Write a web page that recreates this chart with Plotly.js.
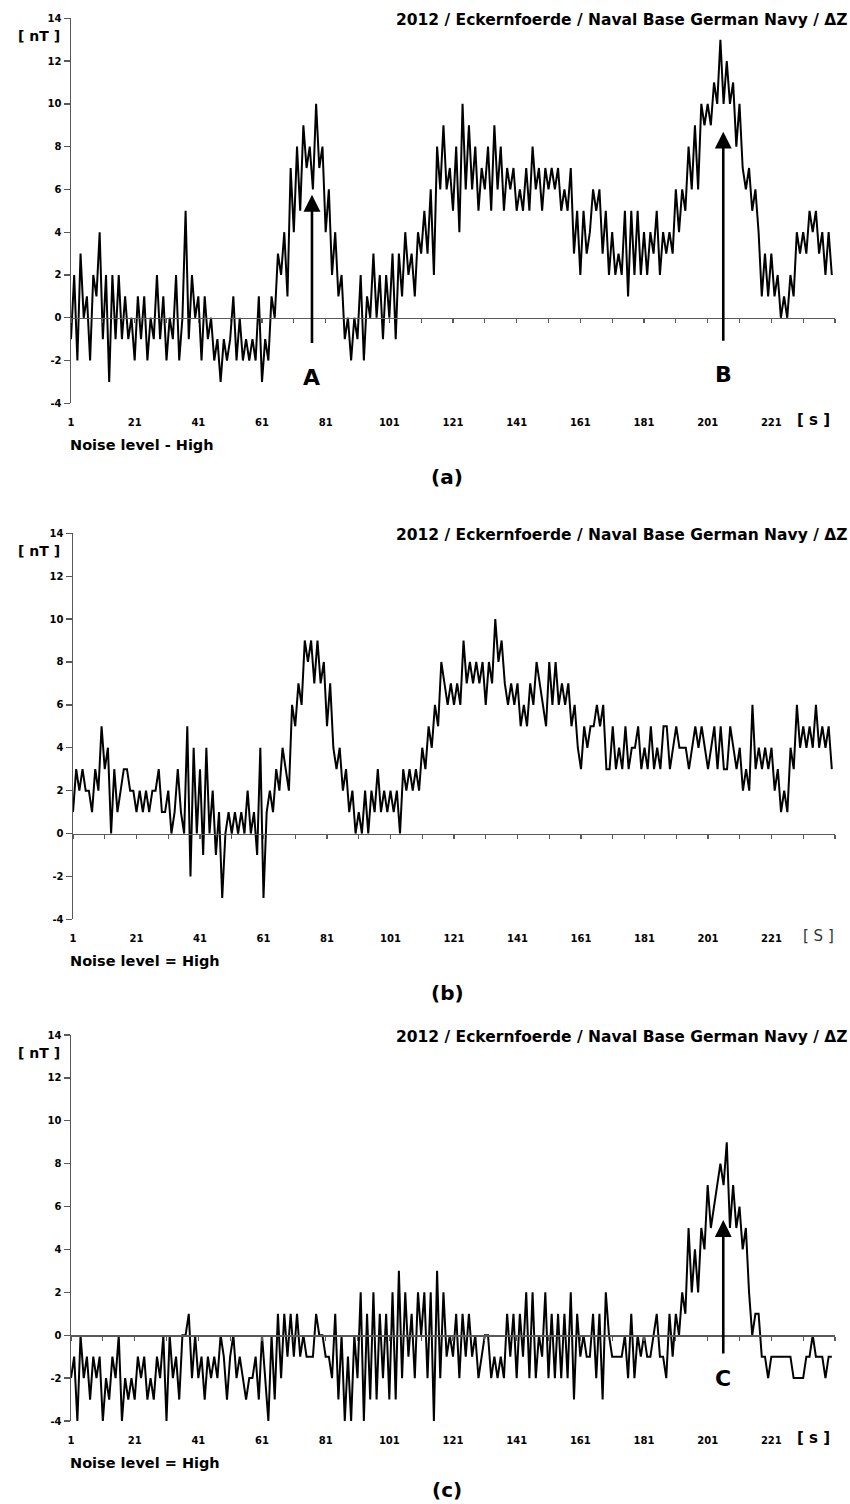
<!DOCTYPE html>
<html><head><meta charset="utf-8">
<script src="https://cdn.plot.ly/plotly-3.0.1.min.js"></script>
<style>body{margin:0;background:#fff}#chart{width:850px;height:1504px}</style>
</head><body><div id="chart"></div>
<script>
// ---- data ----
const seriesA = [
 -1, 2, -2, 3, 0, 1, -2, 2, 1, 4,
 -1, 2, -3, 2, -1, 2, -1, 1, -1, 0,
 -2, 1, -1, 1, -2, 0, -1, 2, -1, 1,
 -2, 0, -1, 2, -2, 0, 5, -1, 2, 0,
 1, -2, 1, -1, 0, -2, -1, -3, -1, -2,
 -1, 1, -2, 0, -2, -1, -2, -1, -2, 1,
 -3, -1, -2, 1, 0, 3, 2, 4, 1, 7,
 4, 8, 5, 9, 7, 8, 6, 10, 7, 8,
 4, 6, 2, 4, 1, 2, -1, 0, -2, 0,
 -1, 2, -2, 1, 0, 3, 0, 2, -1, 2,
 0, 3, -1, 3, 1, 4, 2, 3, 1, 4,
 3, 5, 3, 6, 2, 8, 6, 9, 6, 7,
 5, 8, 4, 10, 6, 9, 6, 8, 5, 7,
 6, 8, 5, 9, 6, 8, 5, 7, 6, 7,
 5, 6, 5, 7, 5, 8, 6, 7, 5, 7,
 6, 7, 6, 7, 5, 6, 5, 7, 3, 5,
 2, 5, 3, 4, 6, 5, 6, 3, 5, 2,
 4, 2, 3, 2, 5, 1, 5, 2, 5, 2,
 4, 2, 4, 3, 5, 2, 4, 3, 4, 3,
 6, 4, 6, 5, 8, 6, 9, 6, 10, 9,
 10, 9, 11, 10, 13, 10, 12, 10, 11, 8,
 10, 7, 6, 7, 5, 6, 4, 1, 3, 1,
 3, 1, 2, 0, 1, 0, 2, 1, 4, 3,
 4, 3, 5, 4, 5, 3, 4, 2, 4, 2
];
const seriesB = [
 1, 3, 2, 3, 2, 2, 1, 3, 2, 5,
 3, 4, 0, 3, 1, 2, 3, 3, 2, 2,
 1, 2, 1, 2, 1, 2, 2, 3, 1, 1,
 2, 0, 1, 3, 1, 0, 5, -2, 4, 0,
 3, -1, 4, 0, 2, -1, 1, -3, 0, 1,
 0, 1, 0, 1, 0, 2, 0, 1, -1, 4,
 -3, 1, 2, 1, 3, 2, 4, 3, 2, 6,
 5, 7, 6, 9, 8, 9, 7, 9, 7, 8,
 5, 7, 4, 3, 4, 2, 3, 1, 2, 0,
 1, 0, 2, 0, 2, 1, 3, 1, 2, 1,
 2, 1, 2, 0, 3, 2, 3, 2, 3, 2,
 4, 3, 5, 4, 6, 5, 8, 7, 6, 7,
 6, 7, 6, 9, 7, 8, 7, 8, 7, 8,
 6, 8, 7, 10, 8, 9, 7, 6, 7, 6,
 7, 5, 6, 5, 7, 6, 8, 7, 6, 5,
 8, 6, 8, 6, 7, 6, 7, 5, 6, 4,
 3, 5, 4, 5, 5, 6, 5, 6, 3, 3,
 5, 3, 4, 3, 5, 3, 4, 4, 5, 3,
 4, 3, 5, 3, 4, 3, 5, 5, 3, 4,
 5, 4, 4, 4, 3, 4, 5, 4, 5, 4,
 3, 4, 5, 3, 5, 3, 3, 5, 4, 3,
 4, 2, 3, 2, 6, 3, 4, 3, 4, 3,
 4, 2, 3, 1, 2, 1, 4, 3, 6, 4,
 5, 4, 5, 4, 6, 4, 5, 4, 5, 3
];
const seriesC = [
 -2, -1, -4, 0, -2, -1, -3, -1, -2, -1,
 -4, -2, -3, -1, -2, 0, -4, -2, -3, -2,
 -3, -1, -2, -1, -3, -2, -3, -1, -2, 0,
 -4, 0, -2, -1, -3, 0, 0, 1, -2, 0,
 -2, -1, -3, -1, -2, -1, -2, 0, -1, -3,
 -1, 0, -2, -1, -2, -3, -2, -2, -1, -3,
 0, -2, -4, 0, -3, 1, -2, 1, -1, 1,
 -1, 1, -1, 0, -1, -1, -1, 1, 0, 0,
 -1, -1, -2, 1, -3, 0, -4, -1, -4, 0,
 -2, 2, -4, 1, -3, 2, -3, 1, -2, 1,
 -3, 2, -3, 3, -2, 2, -1, 1, -2, 2,
 0, 2, -2, 2, -4, 3, -2, 2, -1, 0,
 -1, 1, -2, 1, -1, 1, -1, 0, -2, -1,
 0, 0, -2, -1, -2, -1, -2, 1, -1, 1,
 -2, 1, -1, 2, -2, 2, -2, 0, -1, 2,
 -2, 1, -2, 1, -2, 1, -2, 2, -3, 1,
 -1, 0, -1, -1, 1, -2, 1, -3, 2, 0,
 -1, -1, -1, -1, 0, -2, 1, -2, 0, -1,
 0, -1, -1, 0, 1, -1, -1, -2, 1, -1,
 1, 0, 2, 1, 5, 2, 4, 2, 5, 4,
 7, 5, 6, 7, 8, 7, 9, 5, 7, 5,
 6, 4, 5, 2, 0, 1, 1, -1, -1, -2,
 -1, -1, -1, -1, -1, -1, -1, -2, -2, -2,
 -2, -1, -1, 0, -1, -1, -1, -2, -1, -1
];
const seconds = seriesA.map((_, k) => k + 1);           // sample index 1..240
const xTickValues = [1, 21, 41, 61, 81, 101, 121, 141, 161, 181, 201, 221];
const xTickLabels = ['1','21','41','61','81','101','121','141','161','181','201','221'];
const yTickValues = [-4, -2, 0, 2, 4, 6, 8, 10, 12, 14];
const yTickLabels = ['-4','-2','0','2','4','6','8','10','12','14'];
const panelTitle = '2012 / Eckernfoerde / Naval Base German Navy / ΔZ';
const yUnit = '[ nT ]';
const xUnits = ['[ s ]', '[ S ]', '[ s ]'];
const noiseLabels = ['Noise level - High', 'Noise level = High', 'Noise level = High'];
const panelLetters = ['(a)', '(b)', '(c)'];
const markerLetters = ['A', 'B', 'C'];

// ---- layout ----
const W = 850, H = 1504;
const fx = p => p / W, fy = p => 1 - p / H;
const FONT = 'DejaVu Sans, sans-serif';
const AXIS = '#595959';
const geo = [
  {left: 71, right: 835, top: 18.3, bottom: 403.3},
  {left: 73, right: 835, top: 533.3, bottom: 919.3},
  {left: 71, right: 835, top: 1035, bottom: 1421}
];
const series = [seriesA, seriesB, seriesC];
const layout = {
  width: W, height: H, margin: {l: 0, r: 0, t: 0, b: 0},
  paper_bgcolor: '#fff', plot_bgcolor: 'rgba(0,0,0,0)', showlegend: false,
  font: {family: FONT, color: '#000'}, annotations: []
};
const traces = [];
geo.forEach((g, k) => {
  const n = k + 1, s = n === 1 ? '' : String(n), lab = String(k + 4);
  const zeroPx = g.bottom - (g.bottom - g.top) * 4 / 18;
  layout['xaxis' + s] = {
    domain: [fx(g.left), fx(g.right)], range: [1, 241], anchor: 'free', position: fy(zeroPx),
    showline: true, linecolor: AXIS, linewidth: 1.5, ticks: 'outside', ticklen: 4, tickwidth: 1.3,
    tickcolor: AXIS, tick0: 1, dtick: 10, showticklabels: false, showgrid: false, zeroline: false, fixedrange: true
  };
  layout['yaxis' + s] = {
    domain: [fy(g.bottom), fy(g.top)], range: [-4, 14], anchor: 'x' + s,
    tickvals: yTickValues, ticktext: yTickLabels, ticks: 'outside', ticklen: 6, tickwidth: 1.3, tickcolor: AXIS,
    showline: true, linecolor: AXIS, linewidth: 1.5, showgrid: false, zeroline: false, fixedrange: true,
    tickfont: {family: FONT, size: 10, weight: 'bold', color: '#000'}
  };
  layout['xaxis' + lab] = {
    overlaying: 'x' + s, anchor: 'y' + s, side: 'bottom', range: [1, 241],
    tickvals: xTickValues, ticktext: xTickLabels, ticks: '', showline: false, showgrid: false, zeroline: false,
    ticklabelstandoff: 12, tickfont: {family: FONT, size: 10, weight: 'bold', color: '#000'}, fixedrange: true
  };
  traces.push({x: seconds, y: series[k], xaxis: 'x' + s, yaxis: 'y' + s, mode: 'lines',
    line: {color: '#000', width: 2}, hoverinfo: 'skip'});
  traces.push({x: [], y: [], xaxis: 'x' + lab, yaxis: 'y' + s, mode: 'lines', hoverinfo: 'skip'});

  const A = layout.annotations;
  A.push({xref: 'paper', yref: 'paper', x: fx(849), y: fy(g.top + 2), xanchor: 'right', yanchor: 'middle',
    text: panelTitle, showarrow: false, font: {size: 15.5, weight: 'bold'}});
  A.push({xref: 'paper', yref: 'paper', x: fx(39), y: fy(g.top + 18), xanchor: 'center', yanchor: 'middle',
    text: yUnit, showarrow: false, font: {size: 14, weight: 'bold'}});
  A.push({xref: 'paper', yref: 'paper', x: fx(k === 1 ? 818 : 813), y: fy(g.bottom + 17), xanchor: 'center', yanchor: 'middle',
    text: xUnits[k], showarrow: false, font: k === 1 ? {size: 15, weight: 'normal', color: '#333'} : {size: 15, weight: 'bold'}});
  A.push({xref: 'paper', yref: 'paper', x: fx(68), y: fy(g.bottom + 42), xanchor: 'left', yanchor: 'middle',
    text: noiseLabels[k], showarrow: false, font: {size: 14.5, weight: 'bold'}});
  A.push({xref: 'paper', yref: 'paper', x: fx(447), y: fy(g.bottom + (k === 2 ? 69 : 74)), xanchor: 'center', yanchor: 'middle',
    text: panelLetters[k], showarrow: false, font: {size: 20, weight: 'bold'}});
});

// arrows marking the events
const arrowSpecs = [
  {s: '', x: 76.7, tip: 5.75, tail: -1.25, lab: -2.78, t: markerLetters[0]},
  {s: '', x: 205.9, tip: 8.70, tail: -1.14, lab: -2.65, t: markerLetters[1]},
  {s: '3', x: 205.9, tip: 5.37, tail: -0.92, lab: -2.0, t: markerLetters[2]}
];
arrowSpecs.forEach(a => {
  layout.annotations.push({xref: 'x' + a.s, yref: 'y' + a.s, axref: 'x' + a.s, ayref: 'y' + a.s,
    x: a.x, y: a.tip, ax: a.x, ay: a.tail, text: '', showarrow: true, arrowhead: 2, arrowsize: 1.3,
    arrowwidth: 2.6, arrowcolor: '#000'});
  layout.annotations.push({xref: 'x' + a.s, yref: 'y' + a.s, x: a.x, y: a.lab, text: a.t, showarrow: false,
    xanchor: 'center', yanchor: 'middle', font: {size: 22, weight: 'bold'}});
});

Plotly.newPlot('chart', traces, layout, {displayModeBar: false, staticPlot: true});
</script></body></html>
